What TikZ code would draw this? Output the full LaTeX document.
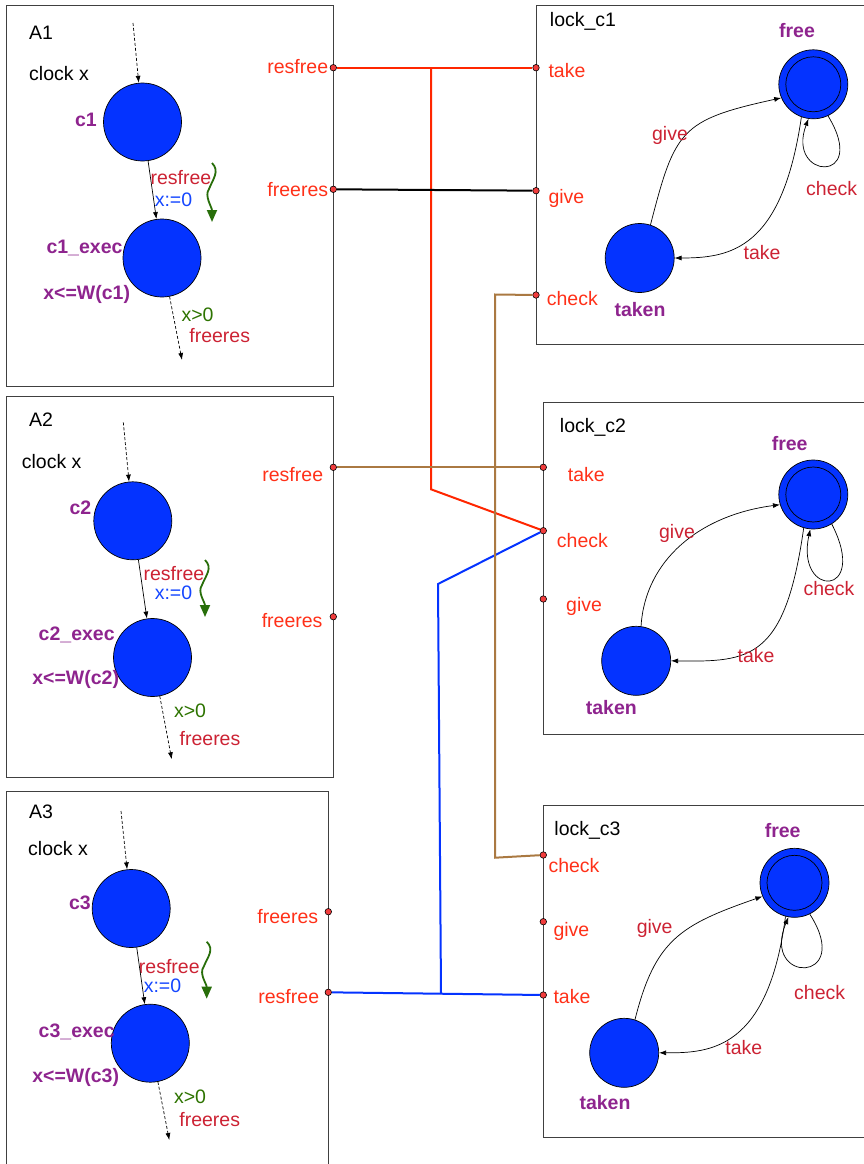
\documentclass[tikz,border=0pt]{standalone}
\usepackage{fontspec}
\setmainfont{Liberation Sans}
\usepackage{tikz}
\usetikzlibrary{arrows.meta}

\definecolor{stateblue}{RGB}{4,51,255}
\definecolor{portred}{RGB}{255,48,24}
\definecolor{dotred}{RGB}{240,60,60}
\definecolor{actred}{RGB}{204,34,51}
\definecolor{locpurple}{RGB}{142,36,142}
\definecolor{guardgreen}{RGB}{45,115,0}
\definecolor{squiggreen}{RGB}{40,110,10}
\definecolor{updblue}{RGB}{20,70,255}
\definecolor{wirered}{RGB}{255,38,0}
\definecolor{wirebrown}{RGB}{170,121,66}
\definecolor{wireblue}{RGB}{4,51,255}

\begin{document}
\begin{tikzpicture}[
    x=1pt, y=-1pt,
    font=\fontsize{19.5}{22}\selectfont,
    pbox/.style={draw=black!75, line width=0.8pt},
    cstate/.style={draw, circle, fill=stateblue, minimum size=78pt, inner sep=0pt, line width=0.7pt},
    lstate/.style={draw, circle, fill=stateblue, minimum size=69pt, inner sep=0pt, line width=0.7pt},
    freestate/.style={lstate, path picture={\draw[line width=0.7pt] (path picture bounding box.center) circle (27.5pt);}},
    port/.style={draw, circle, fill=dotred, minimum size=6.5pt, inner sep=0pt, line width=0.6pt},
    txt/.style={inner sep=0pt},
    portlbl/.style={text=portred, inner sep=0pt},
    act/.style={text=actred, inner sep=0pt},
    loc/.style={text=locpurple, inner sep=0pt, font=\fontsize{19.5}{22}\selectfont\bfseries},
    guard/.style={text=guardgreen, inner sep=0pt},
    upd/.style={text=updblue, inner sep=0pt},
    trans/.style={-{Latex[length=7pt,width=5pt]}, line width=0.7pt},
    init/.style={trans, dash pattern=on 3pt off 2pt},
    squig/.style={-{Triangle[length=12pt,width=10pt]}, line width=1.8pt, draw=squiggreen},
    wire/.style={line width=2pt}
]
\useasboundingbox (0,0) rectangle (864,1164);
\clip (0,0) rectangle (864,1164);

% automaton A1
\draw[pbox] (6.7,5.7) rectangle (333.3,386.7);
\node[txt] (a1name) at (41,33) {A1};
\node[txt] (a1clock) at (59,74) {clock x};
\node[cstate] (c1) at (142.5,122) {};
\node[cstate] (c1e) at (162,258) {};
\node[loc] (c1lbl) at (86,120) {c1};
\node[loc] (c1elbl) at (84.5,248) {c1\_exec};
\node[loc] (c1inv) at (86.7,294) {x<=W(c1)};
\node[act] (a1sync) at (181,178) {resfree};
\node[upd] (a1upd) at (173.5,200) {x:=0};
\node[guard] (a1grd) at (197.5,315) {x>0};
\node[act] (a1out) at (219.7,336) {freeres};
\coordinate (a1in) at (133,23);
\coordinate (a1end) at (182,360);
\draw[init] (a1in) -- (c1);
\draw[trans] (c1) -- (c1e);
\draw[init] (c1e) -- (a1end);
\draw[squig] (212,163) .. controls +(8,8) and +(4,-10) .. ++(-3,26) .. controls +(-5,7) and +(0,-15) .. ++(3,33);
\node[portlbl, anchor=east] (a1reslbl) at (328.3,67) {resfree};
\node[portlbl, anchor=east] (a1frelbl) at (328.3,189.7) {freeres};

% automaton A2
\draw[pbox] (6.7,396) rectangle (333.3,777.3);
\node[txt] (a2name) at (41,420) {A2};
\node[txt] (a2clock) at (51.7,461.7) {clock x};
\node[cstate] (c2) at (132.8,520.8) {};
\node[cstate] (c2e) at (152.5,657.5) {};
\node[loc] (c2lbl) at (80.5,507.5) {c2};
\node[loc] (c2elbl) at (76.7,635) {c2\_exec};
\node[loc] (c2inv) at (75.7,679) {x<=W(c2)};
\node[act] (a2sync) at (174,574) {resfree};
\node[upd] (a2upd) at (173.5,593) {x:=0};
\node[guard] (a2grd) at (190,711) {x>0};
\node[act] (a2out) at (210,739) {freeres};
\coordinate (a2in) at (123.3,422.3);
\coordinate (a2end) at (171.7,759.3);
\draw[init] (a2in) -- (c2);
\draw[trans] (c2) -- (c2e);
\draw[init] (c2e) -- (a2end);
\draw[squig] (205,560) .. controls +(8,8) and +(4,-10) .. ++(-3,25) .. controls +(-5,7) and +(0,-15) .. ++(3,32);
\node[portlbl, anchor=east] (a2reslbl) at (323.3,475) {resfree};
\node[portlbl, anchor=east] (a2frelbl) at (322.7,620.3) {freeres};

% automaton A3
\draw[pbox] (6.7,791) rectangle (328.3,1170);
\node[txt] (a3name) at (41,812) {A3};
\node[txt] (a3clock) at (58,849) {clock x};
\node[cstate] (c3) at (131.2,908.5) {};
\node[cstate] (c3e) at (150.3,1043.2) {};
\node[loc] (c3lbl) at (80,903) {c3};
\node[loc] (c3elbl) at (76.7,1032) {c3\_exec};
\node[loc] (c3inv) at (75.7,1077) {x<=W(c3)};
\node[act] (a3sync) at (169.3,966.5) {resfree};
\node[upd] (a3upd) at (162.5,985.5) {x:=0};
\node[guard] (a3grd) at (190,1097) {x>0};
\node[act] (a3out) at (209.7,1120) {freeres};
\coordinate (a3in) at (121,811);
\coordinate (a3end) at (169.3,1140);
\draw[init] (a3in) -- (c3);
\draw[trans] (c3) -- (c3e);
\draw[init] (c3e) -- (a3end);
\draw[squig] (206.7,941.7) .. controls +(8,8) and +(4,-10) .. ++(-3,25) .. controls +(-5,7) and +(0,-15) .. ++(3,32);
\node[portlbl, anchor=east] (a3frelbl) at (318.3,916.2) {freeres};
\node[portlbl, anchor=east] (a3reslbl) at (319.3,996.2) {resfree};

% lock_c1
\draw[pbox] (536,5.7) rectangle (870,344);
\node[txt] (l1name) at (583,21.7) {lock\_c1};
\node[freestate] (l1free) at (813.3,84.3) {};
\node[lstate] (l1taken) at (639.7,258) {};
\node[loc] (l1freelbl) at (797,30.8) {free};
\node[loc] (l1takenlbl) at (640,310) {taken};
\draw[trans] (l1taken.72) .. controls (675,130) and (680,120) .. (l1free.203);
\draw[trans] (l1free.250) .. controls (782,250) and (730,258) .. (l1taken.0);
\draw[trans] (l1free.-65) .. controls +(42,69) and +(-23,61) .. (l1free.-98);
\node[act] (l1give) at (670,135) {give};
\node[act] (l1take) at (762,252.5) {take};
\node[act] (l1check) at (831.7,189) {check};
\node[portlbl, anchor=west] (l1takelbl) at (548.3,70.8) {take};
\node[portlbl, anchor=west] (l1givelbl) at (548.3,198.7) {give};
\node[portlbl, anchor=west] (l1checklbl) at (546.7,299) {check};

% lock_c2
\draw[pbox] (543.3,402.3) rectangle (870,734);
\node[txt] (l2name) at (593,427) {lock\_c2};
\node[freestate] (l2free) at (813.3,494.5) {};
\node[lstate] (l2taken) at (636.2,660.8) {};
\node[loc] (l2freelbl) at (789.7,443.3) {free};
\node[loc] (l2takenlbl) at (611.3,707.5) {taken};
\draw[trans] (l2taken.82) .. controls (645,560) and (700,515) .. (l2free.197);
\draw[trans] (l2free.254) .. controls (785,660) and (750,662) .. (l2taken.0);
\draw[trans] (l2free.-58) .. controls +(38,74) and +(-15,69) .. (l2free.-95);
\node[act] (l2give) at (677,533) {give};
\node[act] (l2take) at (756,656) {take};
\node[act] (l2check) at (829,589) {check};
\node[portlbl, anchor=west] (l2takelbl) at (567.7,474.2) {take};
\node[portlbl, anchor=west] (l2checklbl) at (556.7,540.5) {check};
\node[portlbl, anchor=west] (l2givelbl) at (566,606.2) {give};

% lock_c3
\draw[pbox] (543.3,805.7) rectangle (870,1137.3);
\node[txt] (l3name) at (587.5,830.8) {lock\_c3};
\node[freestate] (l3free) at (794.5,882.8) {};
\node[lstate] (l3taken) at (624.2,1052.8) {};
\node[loc] (l3freelbl) at (782.7,830.3) {free};
\node[loc] (l3takenlbl) at (605,1102.5) {taken};
\draw[trans] (l3taken.72) .. controls (655,940) and (680,925) .. (l3free.203);
\draw[trans] (l3free.255) .. controls (768,1050) and (710,1053) .. (l3taken.0);
\draw[trans] (l3free.-64) .. controls +(45,70) and +(-28,67) .. (l3free.-100);
\node[act] (l3give) at (654.7,928.3) {give};
\node[act] (l3take) at (743.8,1047.5) {take};
\node[act] (l3check) at (819.7,992.5) {check};
\node[portlbl, anchor=west] (l3checklbl) at (548.3,865.5) {check};
\node[portlbl, anchor=west] (l3givelbl) at (553.3,931) {give};
\node[portlbl, anchor=west] (l3takelbl) at (553.3,996.3) {take};

% ports
\node[port] (a1resp) at (333.3,67.7) {};
\node[port] (a1frep) at (333.3,189.3) {};
\node[port] (a2resp) at (333.3,467.3) {};
\node[port] (a2frep) at (333.3,616.7) {};
\node[port] (a3frep) at (328.3,911.7) {};
\node[port] (a3resp) at (328.3,992.3) {};
\node[port] (l1takep) at (536,67.7) {};
\node[port] (l1givep) at (536,190.7) {};
\node[port] (l1checkp) at (536,295) {};
\node[port] (l2takep) at (543.3,467.3) {};
\node[port] (l2checkp) at (543.3,530.7) {};
\node[port] (l2givep) at (543.3,599) {};
\node[port] (l3checkp) at (543.3,855) {};
\node[port] (l3givep) at (543.3,921.7) {};
\node[port] (l3takep) at (543.3,995) {};

% wiring
\coordinate (rtop) at (431,67.7);
\coordinate (rbend) at (431,489.3);
\coordinate (btop) at (495,294.5);
\coordinate (bbot) at (495,857.7);
\coordinate (ujoin) at (441,993.5);
\coordinate (ubend) at (438,584);
\draw[wire, draw=wirered] (a1resp) -- (l1takep);
\draw[wire, draw=wirered] (rtop) -- (rbend) -- (l2checkp);
\draw[wire] (a1frep) -- (l1givep);
\draw[wire, draw=wirebrown] (a2resp) -- (l2takep);
\draw[wire, draw=wireblue] (a3resp) -- (l3takep);
\draw[wire, draw=wireblue] (ujoin) -- (ubend) -- (l2checkp);
\draw[wire, draw=wirebrown] (l1checkp) -- (btop) -- (bbot) -- (l3checkp);

\end{tikzpicture}
\end{document}
